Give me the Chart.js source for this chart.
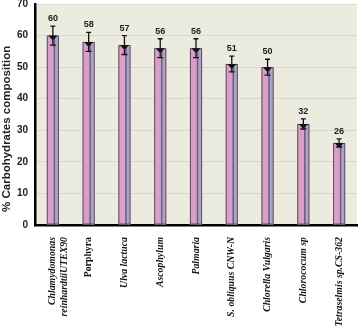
<!DOCTYPE html>
<html>
<head>
<meta charset="utf-8">
<script src="https://cdn.jsdelivr.net/npm/chart.js@4.4.0/dist/chart.umd.min.js"></script>
<style>
  html, body { margin: 0; padding: 0; background: #fff; }
  #wrap { width: 359px; height: 326px; position: relative; }
</style>
</head>
<body>
<div id="wrap"><canvas id="chart"></canvas></div>
<script>
(function () {
    "use strict";

    // data
    const species = [
        ["Chlamydomonas", "reinhardtiiUTEX90"],
        "Porphyra",
        "Ulva lactuca",
        "Ascophylum",
        "Palmaria",
        "S. obliquus CNW-N",
        "Chlorella Vulgaris",
        "Chlorococum sp",
        "Tetraselmis sp.CS-362",
    ];
    const carbs = [60, 58, 57, 56, 56, 51, 50, 32, 26];
    const carbsErr = [3, 3, 3, 3, 3, 2.5, 2.5, 1.6, 1.3];
    const yTicks = [0, 10, 20, 30, 40, 50, 60, 70];

    // beige plot area
    const plotBg = {
        id: "plotBg",
        beforeDraw(chart) {
            const { ctx, chartArea: a } = chart;
            ctx.save();
            ctx.fillStyle = "#ecebdf";
            ctx.fillRect(a.left, a.top, a.right - a.left, a.bottom - a.top);
            ctx.restore();
        },
    };

    // cylinder shading, error bars and value labels
    const barDecor = {
        id: "barDecor",
        afterDatasetsDraw(chart) {
            const ctx = chart.ctx;
            const y = chart.scales.y;
            const meta = chart.getDatasetMeta(0);
            meta.data.forEach((bar, i) => {
                const w = bar.width;
                const left = bar.x - w / 2;
                const top = bar.y;
                const bottom = bar.base;
                ctx.save();
                // lavender right side
                ctx.fillStyle = "#aaa3d2";
                ctx.fillRect(left + w * 0.66, top + 1, w * 0.26, bottom - top - 1);
                // dark center stripe
                ctx.fillStyle = "#6e5a72";
                ctx.fillRect(left + w * 0.56, top + 1, w * 0.12, bottom - top - 1);
                ctx.strokeStyle = "#5a5058";
                ctx.lineWidth = 1;
                ctx.strokeRect(left + 0.5, top + 0.5, w - 1, bottom - top - 1);

                // error bar
                const v = carbs[i];
                const e = carbsErr[i];
                const yHi = y.getPixelForValue(v + e);
                const yLo = y.getPixelForValue(v - e);
                ctx.strokeStyle = "#111";
                ctx.lineWidth = 1.3;
                ctx.beginPath();
                ctx.moveTo(bar.x, yHi);
                ctx.lineTo(bar.x, yLo);
                ctx.moveTo(bar.x - 2.5, yHi);
                ctx.lineTo(bar.x + 2.5, yHi);
                ctx.moveTo(bar.x - 3, yLo);
                ctx.lineTo(bar.x + 3, yLo);
                ctx.stroke();
                // marker at bar top
                ctx.fillStyle = "#111";
                ctx.beginPath();
                ctx.moveTo(bar.x - 4.5, top);
                ctx.lineTo(bar.x + 4.5, top);
                ctx.lineTo(bar.x + 1, top + 4);
                ctx.lineTo(bar.x - 1, top + 4);
                ctx.closePath();
                ctx.fill();

                // value label
                ctx.fillStyle = "#222";
                ctx.font = "bold 9px 'Liberation Sans', Arial, sans-serif";
                ctx.textAlign = "center";
                ctx.textBaseline = "bottom";
                ctx.fillText(String(v), bar.x, yHi - 3);
                ctx.restore();
            });
        },
    };

    const chart = new Chart(document.getElementById("chart"), {
        type: "bar",
        data: {
            labels: species,
            datasets: [
                {
                    data: carbs,
                    backgroundColor: "#d99fc9",
                    borderWidth: 0,
                    categoryPercentage: 1,
                    barPercentage: 0.34,
                },
            ],
        },
        options: {
            responsive: true,
            maintainAspectRatio: false,
            animation: false,
            layout: {
                padding: { top: 0, right: 2, left: 0, bottom: 0 },
            },
            plugins: {
                legend: { display: false },
                tooltip: { enabled: false },
            },
            scales: {
                x: {
                    grid: { display: false },
                    border: { color: "#000", width: 2.5 },
                    ticks: {
                        minRotation: 90,
                        maxRotation: 90,
                        autoSkip: false,
                        padding: 4,
                        color: "#111",
                        font: (c) => ({
                            family: "'Liberation Serif', 'Times New Roman', serif",
                            size: 9.8,
                            weight: "bold",
                            style: c.index === 1 ? "normal" : "italic",
                        }),
                    },
                    afterFit: (s) => {
                        s.height = 101;
                    },
                },
                y: {
                    min: 0,
                    max: 70,
                    afterBuildTicks: (s) => {
                        s.ticks = yTicks.map((v) => ({ value: v }));
                    },
                    grid: { color: "#d8d7cd", drawTicks: false },
                    border: { color: "#000", width: 2.5 },
                    ticks: {
                        padding: 7,
                        color: "#222",
                        font: {
                            family: "'Liberation Sans', Arial, sans-serif",
                            size: 10,
                            weight: "bold",
                        },
                    },
                    title: {
                        display: true,
                        // trailing spaces nudge the text down like the original
                        text: "% Carbohydrates composition         ",
                        color: "#222",
                        padding: { top: 0, bottom: 2 },
                        font: {
                            family: "'Liberation Sans', Arial, sans-serif",
                            size: 11.5,
                            weight: "bold",
                        },
                    },
                    afterFit: (s) => {
                        s.width = 35;
                        s.paddingTop = 4;
                    },
                },
            },
        },
        plugins: [plotBg, barDecor],
    });
})();
</script>
</body>
</html>
